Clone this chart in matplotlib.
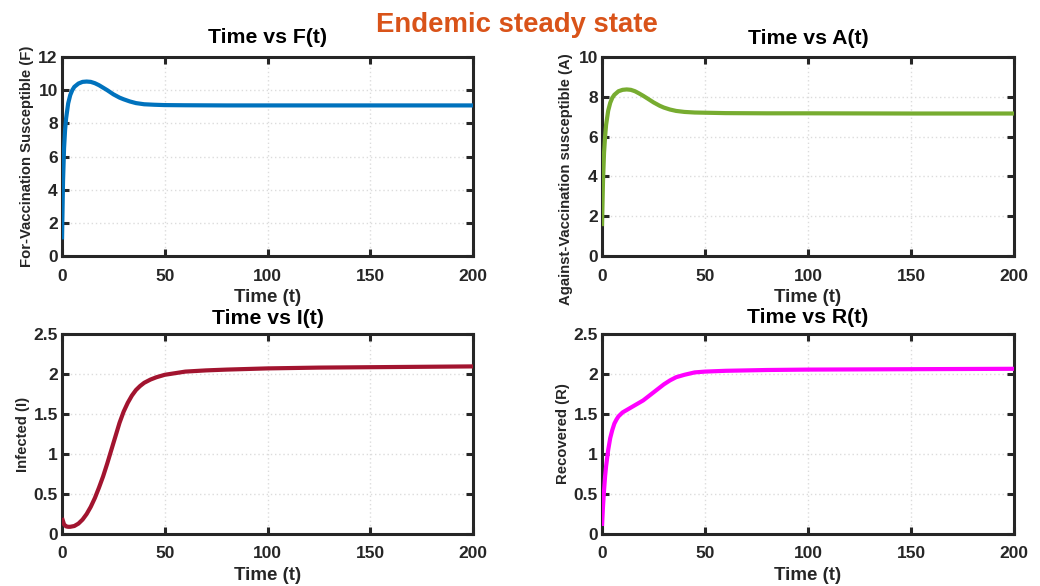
import matplotlib
matplotlib.use("Agg")
import matplotlib.pyplot as plt

plt.rcParams['font.family'] = ['Liberation Sans', 'DejaVu Sans']
plt.rcParams['font.weight'] = 'bold'

# ---- data ----
t_F = [0, 0.5, 1, 1.5, 2, 3, 4, 5, 6, 8, 10, 12, 14, 16, 18, 20, 22, 25, 28, 30, 33, 36, 40, 45, 50, 60, 80, 100, 150, 200]
F = [1.0, 4.5, 6.5, 7.6, 8.3, 9.2, 9.7, 10.0, 10.2, 10.4, 10.5, 10.52, 10.5, 10.42, 10.3, 10.15, 10.0, 9.75, 9.55, 9.45, 9.32, 9.22, 9.15, 9.12, 9.1, 9.09, 9.08, 9.08, 9.08, 9.08]

t_A = [0, 0.5, 1, 1.5, 2, 3, 4, 5, 6, 8, 10, 12, 14, 16, 18, 20, 22, 25, 28, 30, 33, 36, 40, 45, 50, 60, 80, 100, 150, 200]
A = [1.5, 3.8, 5.2, 6.0, 6.6, 7.3, 7.7, 7.95, 8.1, 8.28, 8.35, 8.37, 8.35, 8.28, 8.17, 8.05, 7.92, 7.72, 7.55, 7.46, 7.36, 7.29, 7.24, 7.21, 7.2, 7.18, 7.17, 7.17, 7.16, 7.16]

t_I = [0, 1, 2, 3, 4, 6, 8, 10, 12, 14, 16, 18, 20, 22, 24, 26, 28, 30, 32, 34, 36, 38, 40, 43, 46, 50, 55, 60, 70, 80, 100, 125, 150, 175, 200]
I = [0.2, 0.12, 0.095, 0.09, 0.09, 0.1, 0.13, 0.18, 0.25, 0.34, 0.45, 0.58, 0.72, 0.88, 1.05, 1.22, 1.39, 1.53, 1.64, 1.73, 1.8, 1.85, 1.89, 1.93, 1.96, 1.99, 2.01, 2.03, 2.045, 2.055, 2.07, 2.08, 2.085, 2.09, 2.095]

t_R = [0, 0.5, 1, 1.5, 2, 3, 4, 5, 6, 7, 8, 10, 12, 14, 16, 18, 20, 22, 25, 28, 30, 33, 36, 40, 45, 50, 60, 80, 100, 150, 200]
R = [0.1, 0.35, 0.55, 0.72, 0.85, 1.05, 1.2, 1.3, 1.38, 1.43, 1.47, 1.52, 1.55, 1.58, 1.61, 1.64, 1.67, 1.71, 1.77, 1.83, 1.87, 1.92, 1.96, 1.99, 2.02, 2.03, 2.04, 2.05, 2.055, 2.06, 2.065]

titles = ["Time vs F(t)", "Time vs A(t)", "Time vs I(t)", "Time vs R(t)"]
ylabels = ["For-Vaccination Susceptible (F)", "Against-Vaccination susceptible (A)", "Infected (I)", "Recovered (R)"]
colors = ["#0072BD", "#77AC30", "#A2142F", "#FF00FF"]
ylims = [(0, 12), (0, 10), (0, 2.5), (0, 2.5)]
yticks = [[0, 2, 4, 6, 8, 10, 12], [0, 2, 4, 6, 8, 10], [0, 0.5, 1, 1.5, 2, 2.5], [0, 0.5, 1, 1.5, 2, 2.5]]
yticklabels = [["0", "2", "4", "6", "8", "10", "12"], ["0", "2", "4", "6", "8", "10"],
               ["0", "0.5", "1", "1.5", "2", "2.5"], ["0", "0.5", "1", "1.5", "2", "2.5"]]
xticks = [0, 50, 100, 150, 200]
series = [(t_F, F), (t_A, A), (t_I, I), (t_R, R)]

fig = plt.figure(figsize=(10.4, 5.86), dpi=100)
positions = [
    [62/1040, 1-256/586, 411/1040, 199/586],
    [602/1040, 1-256/586, 412/1040, 199/586],
    [62/1040, 1-534/586, 411/1040, 200/586],
    [602/1040, 1-534/586, 412/1040, 200/586],
]
title_pads = [10, 9.5, 7.5, 8]
ylabel_coords = [(-0.068, 0.5), (-0.071, 0.387), (-0.079, 0.5), (-0.077, 0.5)]
edge = "#262626"
for k in range(4):
    ax = fig.add_axes(positions[k])
    tx, yv = series[k]
    ax.plot(tx, yv, color=colors[k], lw=3.0, solid_capstyle='butt', zorder=3)
    ax.set_xlim(0, 200)
    ax.set_ylim(*ylims[k])
    ax.set_xticks(xticks)
    ax.set_xticklabels([str(v) for v in xticks])
    ax.set_yticks(yticks[k])
    ax.set_yticklabels(yticklabels[k])
    ax.grid(True, linestyle=(0, (1, 2)), color="#dcdcdc", lw=1.0)
    for s in ax.spines.values():
        s.set_linewidth(2.2)
        s.set_color(edge)
    ax.tick_params(direction='in', length=5, width=2.2, color=edge, top=True, right=True,
                   labelsize=12.5, labelcolor=edge)
    ax.tick_params(axis='x', pad=9)
    ax.tick_params(axis='y', pad=3)
    for lab in ax.get_xticklabels() + ax.get_yticklabels():
        lab.set_fontweight('bold')
    ax.set_title(titles[k], fontsize=15.3, fontweight='bold', pad=title_pads[k], color='black')
    ax.set_xlabel("Time (t)", fontsize=13.5, fontweight='bold', color=edge, labelpad=4)
    ax.set_ylabel(ylabels[k], fontsize=10.7, fontweight='bold', color=edge)
    ax.yaxis.set_label_coords(*ylabel_coords[k])

fig.text(0.497, 1-25/586, "Endemic steady state", ha='center', va='center',
         fontsize=19.8, fontweight='bold', color="#D95319")

fig.savefig("out.png", dpi=100)
